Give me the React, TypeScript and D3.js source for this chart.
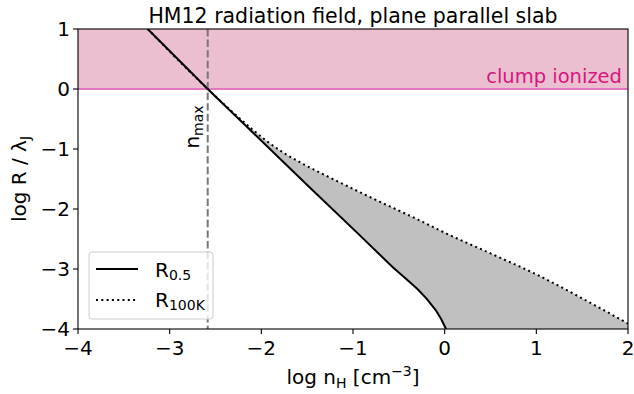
import React from "react";
import * as d3 from "d3";

// log n_H values and log R/λJ for the two radius definitions
const solidX = [-3.24, -2.585, -1.5, -0.925, -0.56, -0.41, -0.3, -0.2, -0.1, -0.04, 0.015];
const solidY = [1, 0, -1.6, -2.44, -2.98, -3.18, -3.33, -3.49, -3.68, -3.83, -4.0];
const dotX = [-3.24, -2.585, -2.31, -2.1, -1.94, -1.75, -1.58, -1.22, -0.925, -0.72, -0.3, 0.02, 0.5, 1, 1.5, 2];
const dotY = [1, 0, -0.39, -0.67, -0.87, -1.07, -1.22, -1.5, -1.72, -1.87, -2.17, -2.41, -2.74, -3.09, -3.49, -3.91];
const nMax = -2.585;
const xTicks = [-4, -3, -2, -1, 0, 1, 2];
const yTicks = [1, 0, -1, -2, -3, -4];

const W = 634, H = 394;
const L = 78, R = 628, T = 29, B = 329;
const FONT = "DejaVu Sans, sans-serif";
const FS = 20;
const SUB = 14;

export default function App() {
  const x = d3.scaleLinear().domain([-4, 2]).range([L, R]);
  const y = d3.scaleLinear().domain([-4, 1]).range([B, T]);

  const solid = solidX.map((v, i) => [v, solidY[i]] as [number, number]);
  const dotted = dotX.map((v, i) => [v, dotY[i]] as [number, number]);

  const smooth = d3.line<[number, number]>().x(d => x(d[0])).y(d => y(d[1])).curve(d3.curveMonotoneX);
  const straight = d3.line<[number, number]>().x(d => x(d[0])).y(d => y(d[1]));

  // shaded band between the two curves, closed along the bottom axis
  const upper = smooth(dotted) ?? "";
  const lowerRev = straight(solid.slice().reverse()) ?? "";
  const fillPath = upper + "L" + x(2) + "," + y(-4) + "L" + lowerRev.slice(1) + "Z";

  const minus = (v: number) => (v < 0 ? "\u2212" + Math.abs(v) : String(v));
  const pink = "#e377c2";

  return (
    <svg width={W} height={H} style={{ position: "absolute", left: 0, top: 0, background: "#fff" }} fontFamily={FONT}>
      <defs>
        <clipPath id="plot">
          <rect x={L} y={T} width={R - L} height={B - T} />
        </clipPath>
      </defs>
      <g clipPath="url(#plot)">
        <rect x={L} y={y(1)} width={R - L} height={y(0) - y(1)} fill="#ebbfcf" />
        <path d={fillPath} fill="#c0c0c0" stroke="none" />
        <line x1={L} x2={R} y1={y(0)} y2={y(0)} stroke={pink} strokeWidth={2} />
        <line x1={x(nMax)} x2={x(nMax)} y1={T} y2={B} stroke="#777" strokeWidth={2} strokeDasharray="7.4,3.2" />
        <path d={upper} fill="none" stroke="#000" strokeWidth={2} strokeDasharray="2,3.3" />
        <path d={straight(solid) ?? ""} fill="none" stroke="#000" strokeWidth={2} strokeLinejoin="round" />
      </g>
      <text x={R - 6} y={y(0) - 6} textAnchor="end" fontSize={19.5} fill="#d6177f">clump ionized</text>
      <text transform={`translate(${x(nMax) - 9},127) rotate(-90)`} textAnchor="middle" fontSize={FS} fill="#000">
        n<tspan fontSize={SUB} dy={4}>max</tspan>
      </text>

      {/* axes frame */}
      <rect x={L} y={T} width={R - L} height={B - T} fill="none" stroke="#000" strokeWidth={1.1} />
      {xTicks.map(t => (
        <g key={"x" + t}>
          <line x1={x(t)} x2={x(t)} y1={B} y2={B + 5} stroke="#000" strokeWidth={1.1} />
          <text x={x(t)} y={B + 26} textAnchor="middle" fontSize={FS}>{minus(t)}</text>
        </g>
      ))}
      {yTicks.map(t => (
        <g key={"y" + t}>
          <line x1={L - 5} x2={L} y1={y(t)} y2={y(t)} stroke="#000" strokeWidth={1.1} />
          <text x={L - 8} y={y(t) + 7} textAnchor="end" fontSize={FS}>{minus(t)}</text>
        </g>
      ))}

      <text x={(L + R) / 2} y={23} textAnchor="middle" fontSize={20.5}>HM12 radiation field, plane parallel slab</text>
      <text x={(L + R) / 2} y={384} textAnchor="middle" fontSize={FS}>
        log n<tspan fontSize={SUB} dy={4}>H</tspan><tspan dy={-4}> [cm</tspan><tspan fontSize={SUB} dy={-8}>{"\u22123"}</tspan><tspan dy={8}>]</tspan>
      </text>
      <text transform={`translate(26,${(T + B) / 2}) rotate(-90)`} textAnchor="middle" fontSize={FS}>
        log R / λ<tspan fontSize={SUB} dy={4}>J</tspan>
      </text>

      {/* legend */}
      <rect x={89} y={252} width={124} height={67} rx={3} fill="#fff" fillOpacity={0.8} stroke="#ccc" strokeWidth={1} />
      <line x1={96} x2={138} y1={269} y2={269} stroke="#000" strokeWidth={2} />
      <text x={155} y={277} fontSize={FS}>R<tspan fontSize={SUB} dy={3}>0.5</tspan></text>
      <line x1={96} x2={138} y1={300} y2={300} stroke="#000" strokeWidth={2} strokeDasharray="2,3.3" />
      <text x={155} y={307} fontSize={FS}>R<tspan fontSize={SUB} dy={3}>100K</tspan></text>
    </svg>
  );
}
